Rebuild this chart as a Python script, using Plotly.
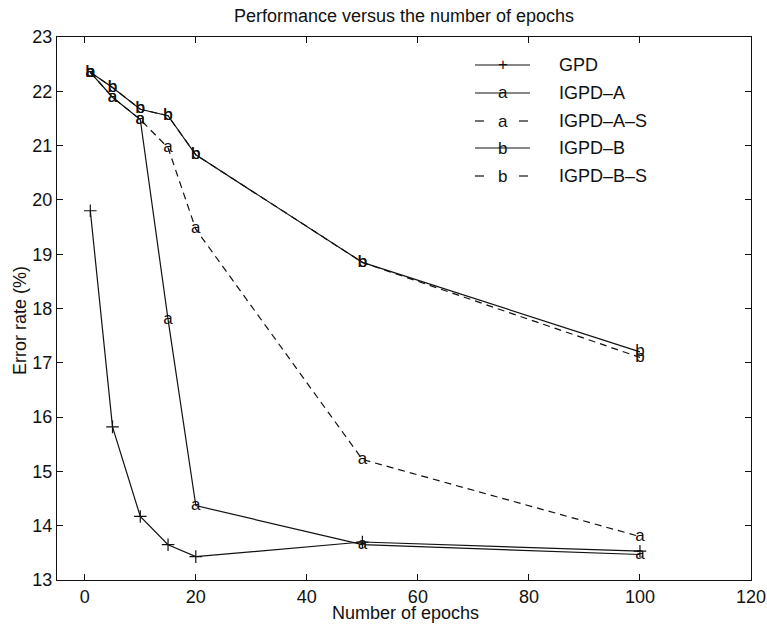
import plotly.graph_objects as go

epochs = [1, 5, 10, 15, 20, 50, 100]
gpd = [19.8, 15.82, 14.17, 13.65, 13.43, 13.70, 13.53]
igpd_a = [22.35, 21.89, 21.48, 17.8, 14.37, 13.65, 13.47]
igpd_a_s = [22.35, 21.89, 21.48, 20.96, 19.46, 15.22, 13.80]
igpd_b = [22.35, 22.07, 21.67, 21.55, 20.83, 18.85, 17.2]
igpd_b_s = [22.35, 22.07, 21.67, 21.55, 20.83, 18.85, 17.1]

series_names = ["GPD", "IGPD\u2013A", "IGPD\u2013A\u2013S", "IGPD\u2013B", "IGPD\u2013B\u2013S"]
x_ticks = [0, 20, 40, 60, 80, 100, 120]
y_ticks = [13, 14, 15, 16, 17, 18, 19, 20, 21, 22, 23]

FONT = "Liberation Sans, Arial, Helvetica, sans-serif"
BLACK = "#111111"
DASH = "7px,5px"
FS = 18

fig = go.Figure()

# GPD with '+' markers
fig.add_trace(go.Scatter(
    x=epochs, y=gpd, mode="lines+markers", name=series_names[0],
    line=dict(color=BLACK, width=1.2),
    marker=dict(symbol="cross-thin", size=9, line=dict(color=BLACK, width=1.2)),
    showlegend=False))

styles = [
    (igpd_a, "a", "solid", series_names[1]),
    (igpd_a_s, "a", DASH, series_names[2]),
    (igpd_b, "b", "solid", series_names[3]),
    (igpd_b_s, "b", DASH, series_names[4]),
]
for ys, letter, dash, name in styles:
    fig.add_trace(go.Scatter(
        x=epochs, y=ys, mode="lines+text", name=name,
        text=[letter] * len(epochs), textposition="middle center",
        textfont=dict(family=FONT, size=17, color=BLACK),
        line=dict(color=BLACK, width=1.2, dash=dash),
        cliponaxis=False, showlegend=False))

# Custom legend (paper coordinates)
shapes = []
annotations = []
L, R, T, B = 57, 751, 37, 580
W, H = 767, 626
def px(xp):
    return (xp - L) / (R - L)
def py(yp):
    return (B - yp) / (B - T)

leg_rows = [65, 93, 121, 148, 176]
leg_marks = ["+", "a", "a", "b", "b"]
leg_dash = ["solid", "solid", "dash", "solid", "dash"]
for i, name in enumerate(series_names):
    yy = py(leg_rows[i])
    if leg_dash[i] == "solid":
        shapes.append(dict(type="line", xref="paper", yref="paper",
                           x0=px(475), x1=px(530), y0=yy, y1=yy,
                           line=dict(color=BLACK, width=1.2)))
    else:
        shapes.append(dict(type="line", xref="paper", yref="paper",
                           x0=px(475), x1=px(484), y0=yy, y1=yy,
                           line=dict(color=BLACK, width=1.2)))
        shapes.append(dict(type="line", xref="paper", yref="paper",
                           x0=px(519), x1=px(528), y0=yy, y1=yy,
                           line=dict(color=BLACK, width=1.2)))
    annotations.append(dict(xref="paper", yref="paper", x=px(503), y=yy,
                            text=leg_marks[i], showarrow=False,
                            xanchor="center", yanchor="middle",
                            font=dict(family=FONT, size=17, color=BLACK)))
    annotations.append(dict(xref="paper", yref="paper", x=px(557), y=yy,
                            text=name, showarrow=False,
                            xanchor="left", yanchor="middle",
                            font=dict(family=FONT, size=FS, color=BLACK)))

# Axis titles as annotations for precise placement
annotations.append(dict(xref="paper", yref="paper", x=px(405), y=py(613),
                        text="Number of epochs", showarrow=False,
                        xanchor="center", yanchor="middle",
                        font=dict(family=FONT, size=FS, color=BLACK)))
annotations.append(dict(xref="paper", yref="paper", x=px(20), y=py(321),
                        text="Error rate (%)", showarrow=False, textangle=-90,
                        xanchor="center", yanchor="middle",
                        font=dict(family=FONT, size=FS, color=BLACK)))

fig.update_layout(
    width=W, height=H,
    margin=dict(l=L, r=W - R, t=T, b=H - B, autoexpand=False),
    paper_bgcolor="white", plot_bgcolor="white",
    font=dict(family=FONT, size=FS, color=BLACK),
    title=dict(text="Performance versus the number of epochs",
               x=404 / W, xanchor="center",
               y=1 - 16 / H, yanchor="middle", yref="container",
               font=dict(family=FONT, size=FS, color=BLACK)),
    xaxis=dict(range=[-5, 120], tickvals=x_ticks, ticks="inside", ticklen=6,
               tickcolor=BLACK, showline=True, linecolor=BLACK, linewidth=1.2,
               mirror="ticks", showgrid=False, zeroline=False, automargin=False,
               tickfont=dict(family=FONT, size=FS, color=BLACK)),
    yaxis=dict(range=[13, 23], tickvals=y_ticks, ticks="inside", ticklen=6,
               tickcolor=BLACK, showline=True, linecolor=BLACK, linewidth=1.2,
               mirror="ticks", showgrid=False, zeroline=False, automargin=False,
               tickfont=dict(family=FONT, size=FS, color=BLACK)),
    shapes=shapes, annotations=annotations, showlegend=False,
    hovermode=False,
)

fig.write_html("out.html",
               config={"displayModeBar": False, "staticPlot": True},
               post_script="document.body.style.margin='0px';document.body.style.overflow='hidden';")
